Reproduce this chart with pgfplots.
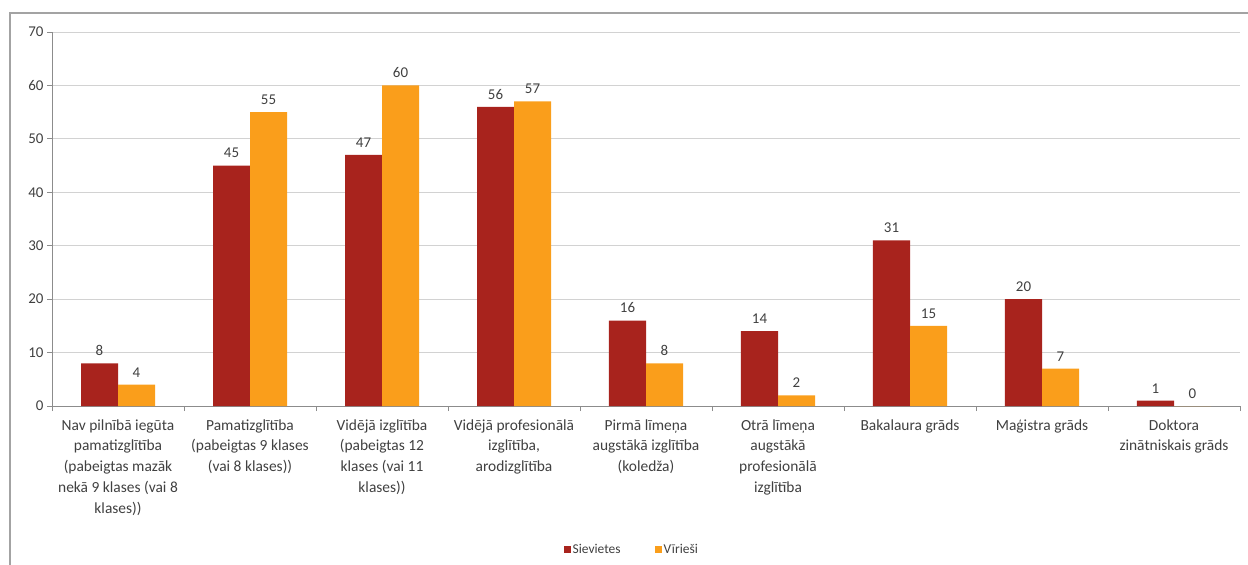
\documentclass[border=0pt]{standalone}
\usepackage{pgfplots}
\pgfplotsset{compat=1.18}
\usepackage{fontspec}
\setmainfont{Carlito}
\definecolor{sv}{RGB}{168,35,29}
\definecolor{vi}{RGB}{250,158,27}
\definecolor{txt}{RGB}{64,64,64}
\definecolor{gridc}{RGB}{210,210,210}
\definecolor{axc}{RGB}{140,140,140}
\newcommand{\xlfont}{\fontsize{15.5}{20.8}\selectfont}
\begin{document}
\begin{tikzpicture}[x=1bp,y=1bp]
\useasboundingbox (0,0) rectangle (1248,-565);
\draw[axc!80, line width=1.2bp] (10,-565) -- (10,-13) -- (1248,-13);
\begin{axis}[
  at={(52bp,-406bp)}, anchor=south west,
  scale only axis, width=1188bp, height=374bp,
  ybar=0pt, bar width=37bp,
  xmin=-0.5, xmax=8.5, ymin=0, ymax=70,
  ytick={0,10,...,70},
  /pgf/number format/assume math mode=true,
  xtick={-0.5,0.5,...,8.5}, xticklabels={},
  extra x ticks={0,1,2,3,4,5,6,7,8},
  extra x tick labels={
    {Nav pilnībā iegūta\\pamatizglītība\\(pabeigtas mazāk\\nekā 9 klases (vai 8\\klases))},
    {Pamatizglītība\\(pabeigtas 9 klases\\(vai 8 klases))},
    {Vidējā izglītība\\(pabeigtas 12\\klases (vai 11\\klases))},
    {Vidējā profesionālā\\izglītība,\\arodizglītība},
    {Pirmā līmeņa\\augstākā izglītība\\(koledža)},
    {Otrā līmeņa\\augstākā\\profesionālā\\izglītība},
    {Bakalaura grāds},
    {Maģistra grāds},
    {Doktora\\zinātniskais grāds}},
  extra x tick style={major tick length=0pt, grid=none},
  xticklabel style={align=center, font=\xlfont, text=txt, yshift=-10bp},
  yticklabel style={font=\fontsize{15}{16}\selectfont, text=txt},
  axis x line*=bottom, axis y line*=left,
  axis line style={draw=axc, line width=0.8bp},
  every tick/.style={draw=axc, line width=0.8bp},
  tick align=outside, major tick length=5bp,
  ymajorgrids, grid style={draw=gridc, line width=1bp},
  nodes near coords,
  every node near coord/.append style={font=\fontsize{15}{16}\selectfont, text=txt, yshift=4bp},
  legend style={at={(0.488,-0.383)}, anchor=center, draw=none, legend columns=2,
    font=\fontsize{13.5}{16}\selectfont, text=txt,
    nodes={inner xsep=2bp},
    /tikz/every even column/.append style={column sep=32bp}},
  legend image code/.code={\fill[#1] (0bp,-3.5bp) rectangle (7bp,3.5bp);},
]
\addplot[fill=sv, draw=none] coordinates {(0,8) (1,45) (2,47) (3,56) (4,16) (5,14) (6,31) (7,20) (8,1)};
\addplot[fill=vi, draw=none] coordinates {(0,4) (1,55) (2,60) (3,57) (4,8) (5,2) (6,15) (7,7) (8,0)};
\legend{Sievietes, Vīrieši}
\end{axis}
\end{tikzpicture}
\end{document}
